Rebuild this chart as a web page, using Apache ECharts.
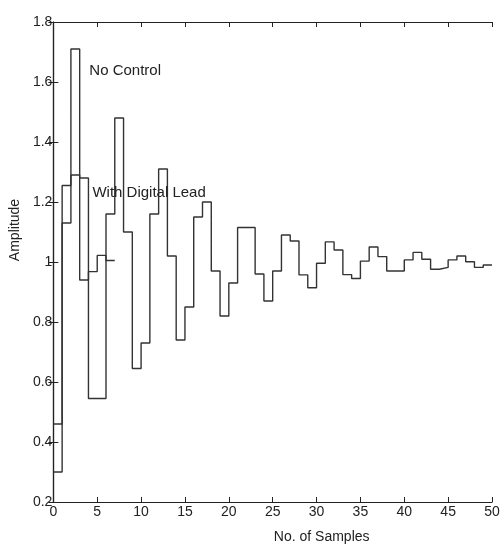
<!DOCTYPE html>
<html>
<head>
<meta charset="utf-8">
<script src="https://cdn.jsdelivr.net/npm/echarts@6/dist/echarts.min.js"></script>
<style>
html,body{margin:0;padding:0;background:#fff;}
#chart{width:504px;height:551px;}
</style>
</head>
<body>
<div id="chart"></div>
<script>
// Sample-and-hold outputs: value k is held over [k, k+1]
const noControl = [0.30, 1.13, 1.71, 1.28, 0.545, 0.545, 1.16, 1.48, 1.10, 0.645,
  0.73, 1.16, 1.31, 1.02, 0.74, 0.85, 1.15, 1.20, 0.97, 0.82,
  0.93, 1.115, 1.115, 0.96, 0.87, 0.97, 1.09, 1.07, 0.957, 0.914,
  0.996, 1.067, 1.04, 0.958, 0.945, 1.003, 1.05, 1.018, 0.97, 0.97,
  1.007, 1.032, 1.009, 0.976, 0.982, 1.007, 1.02, 1.001, 0.982, 0.99];
const digitalLead = [0.46, 1.255, 1.29, 0.94, 0.968, 1.022, 1.005];
const yTicks = {min: 0.2, max: 1.8, interval: 0.2};
const xTicks = {min: 0, max: 50, interval: 5};
const annotations = [
  {text: 'No Control', x: 4.1, y: 1.637},
  {text: 'With Digital Lead', x: 4.45, y: 1.23}
];

function stairs(vals) {
  const d = vals.map((v, i) => [i, v]);
  d.push([vals.length, vals[vals.length - 1]]);
  return d;
}

const FONT = 'Liberation Sans, Arial, sans-serif';
const INK = '#222';
const chart = echarts.init(document.getElementById('chart'));

const axisCommon = {
  axisLine: {show: true, lineStyle: {color: INK, width: 1.2}},
  axisTick: {show: true, inside: true, length: 5, lineStyle: {color: INK, width: 1}},
  splitLine: {show: false}
};

chart.setOption({
  backgroundColor: '#fff',
  animation: false,
  grid: {left: 50, right: 12, top: 22, bottom: 49, containLabel: false},
  xAxis: [
    Object.assign({
      type: 'value', min: xTicks.min, max: xTicks.max, interval: xTicks.interval,
      position: 'bottom',
      name: 'No. of Samples', nameLocation: 'middle', nameGap: 28,
      nameTextStyle: {fontFamily: FONT, fontSize: 14, color: INK, padding: [0, 0, 0, 98]},
      axisLabel: {fontFamily: FONT, fontSize: 14, color: INK, margin: 3}
    }, axisCommon),
    Object.assign({
      type: 'value', min: xTicks.min, max: xTicks.max, interval: xTicks.interval,
      position: 'top', axisLabel: {show: false}
    }, axisCommon)
  ],
  yAxis: [
    Object.assign({
      type: 'value', min: yTicks.min, max: yTicks.max, interval: yTicks.interval,
      position: 'left',
      name: 'Amplitude', nameLocation: 'middle', nameGap: 26,
      nameTextStyle: {fontFamily: FONT, fontSize: 14, color: INK, padding: [0, 0, 0, 64]},
      axisLabel: {fontFamily: FONT, fontSize: 14, color: INK, margin: 1, padding: [0, 0, 10, 0]}
    }, axisCommon),
    Object.assign({
      type: 'value', min: yTicks.min, max: yTicks.max, interval: yTicks.interval,
      position: 'right', axisLabel: {show: false}
    }, axisCommon)
  ],
  series: [
    {
      name: 'No Control', type: 'line', step: 'end', data: stairs(noControl),
      showSymbol: false, symbol: 'none',
      lineStyle: {color: '#333', width: 1.4},
      markPoint: {
        symbol: 'circle', symbolSize: 0,
        label: {show: true, position: 'inside', align: 'left', verticalAlign: 'middle',
          fontFamily: FONT, fontSize: 15, color: INK, formatter: p => p.name},
        data: [{name: annotations[0].text, coord: [annotations[0].x, annotations[0].y]}]
      }
    },
    {
      name: 'With Digital Lead', type: 'line', step: 'end', data: stairs(digitalLead),
      showSymbol: false, symbol: 'none',
      lineStyle: {color: '#333', width: 1.4},
      markPoint: {
        symbol: 'circle', symbolSize: 0,
        label: {show: true, position: 'inside', align: 'left', verticalAlign: 'middle',
          fontFamily: FONT, fontSize: 15, color: INK, formatter: p => p.name},
        data: [{name: annotations[1].text, coord: [annotations[1].x, annotations[1].y]}]
      }
    }
  ]
});
</script>
</body>
</html>
